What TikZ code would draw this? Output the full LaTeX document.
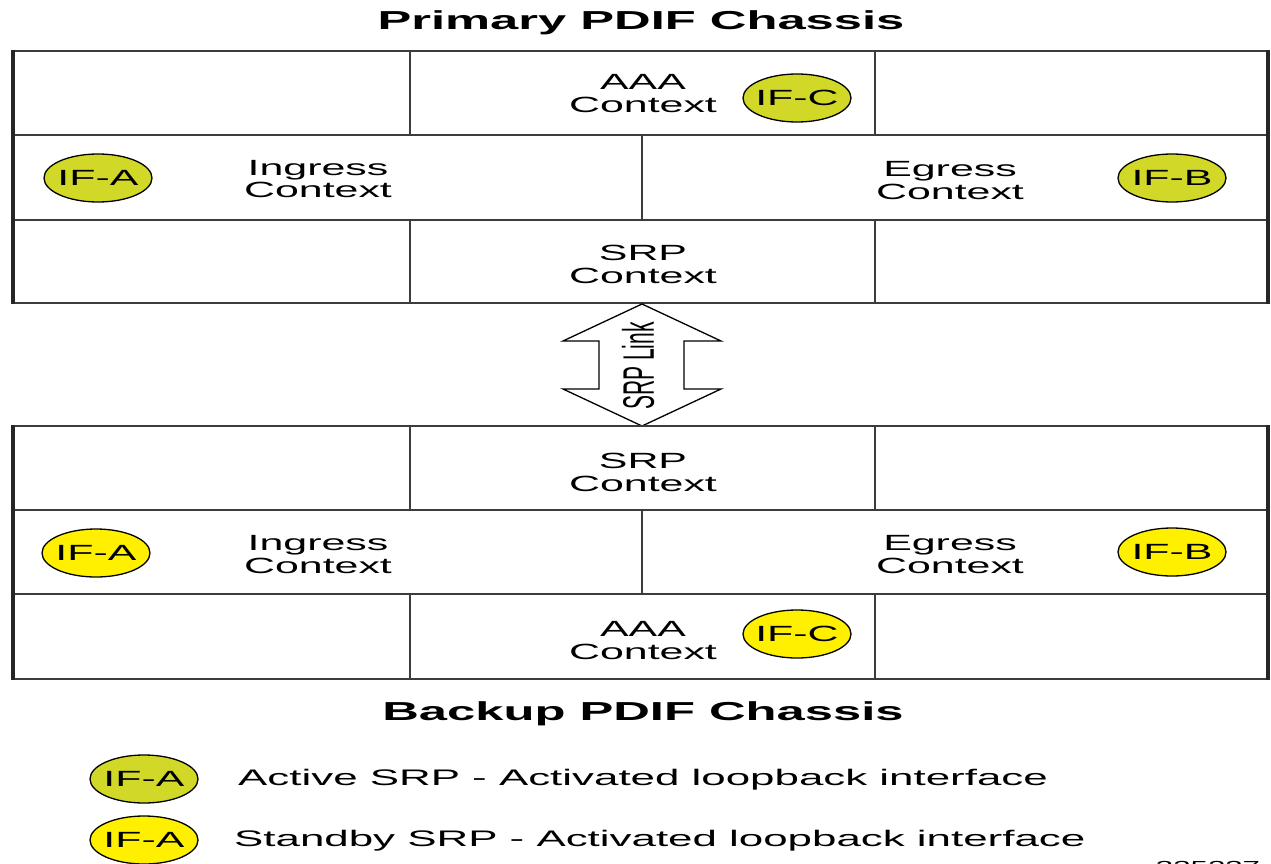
\documentclass[tikz,border=0pt]{standalone}
\usepackage{fontspec}
\setmainfont{Liberation Sans}
\newfontfamily\wide[FakeStretch=1.95]{Liberation Sans}
\usetikzlibrary{shapes.geometric}
\definecolor{activeY}{RGB}{210,216,40}
\definecolor{standbyY}{RGB}{255,240,0}
\definecolor{lineC}{RGB}{60,60,60}
\newcommand\twolines[2]{\vtop{\baselineskip=23pt\halign{\hfil##\hfil\cr #1\cr #2\cr}}}
\begin{document}
\begin{tikzpicture}[x=1pt,y=-1pt,
  lbl/.style={font=\wide\fontsize{22}{23}\selectfont, inner sep=0pt, anchor=base},
  ttl/.style={font=\wide\bfseries\fontsize{26}{26}\selectfont, inner sep=0pt, anchor=base},
  legtxt/.style={font=\wide\fontsize{22.5}{23}\selectfont, inner sep=0pt, anchor=base west},
  ifnode/.style={ellipse, draw=black, line width=1.3pt, minimum width=108pt, minimum height=48pt,
                 inner sep=0pt, inner xsep=-8pt, font=\wide\fontsize{22}{22}\selectfont},
  act/.style={ifnode, fill=activeY},
  stb/.style={ifnode, fill=standbyY},
  gridline/.style={draw=lineC, line width=2pt},
  edge/.style={draw=black!85, line width=3.5pt},
  linkarrow/.style={draw=black, line width=1.3pt, fill=white, line join=miter}]
\useasboundingbox (0,0) rectangle (1271,864);

% ---------- Primary chassis ----------
\node[ttl] (ptitle) at (641,30) {Primary PDIF Chassis};
\draw[gridline] (13,51) rectangle (1268,303);
\draw[gridline] (13,135) -- (1268,135);
\draw[gridline] (13,220) -- (1268,220);
\draw[gridline] (410,51) -- (410,135);
\draw[gridline] (875,51) -- (875,135);
\draw[gridline] (642,135) -- (642,220);
\draw[gridline] (410,220) -- (410,303);
\draw[gridline] (875,220) -- (875,303);
\draw[edge] (13,50) -- (13,304);
\draw[edge] (1268,50) -- (1268,304);

\node[lbl] (paaa) at (643,90) {\twolines{AAA}{Context}};
\node[lbl] (ping) at (318,175) {\twolines{Ingress}{Context}};
\node[lbl] (pegr) at (950,176) {\twolines{Egress}{Context}};
\node[lbl] (psrp) at (643,260) {\twolines{SRP}{Context}};
\node[act] (pifc) at (797,98) {IF-C};
\node[act] (pifa) at (98,178) {IF-A};
\node[act] (pifb) at (1172,178) {IF-B};

% ---------- SRP link ----------
\draw[linkarrow] (642,304) -- (563,341) -- (599,341) -- (599,389) -- (563,389) -- (642,426)
  -- (721,389) -- (684,389) -- (684,341) -- (721,341) -- cycle;
\node[rotate=90, inner sep=0pt, font=\fontsize{21}{21}\selectfont] (srplink) at (638,366)
  {\scalebox{1}[2.1]{SRP Link}};

% ---------- Backup chassis ----------
\draw[gridline] (13,426) rectangle (1268,679);
\draw[gridline] (13,510) -- (1268,510);
\draw[gridline] (13,594) -- (1268,594);
\draw[gridline] (410,426) -- (410,510);
\draw[gridline] (875,426) -- (875,510);
\draw[gridline] (642,510) -- (642,594);
\draw[gridline] (410,594) -- (410,679);
\draw[gridline] (875,594) -- (875,679);
\draw[edge] (13,425) -- (13,680);
\draw[edge] (1268,425) -- (1268,680);

\node[lbl] (bsrp) at (643,468) {\twolines{SRP}{Context}};
\node[lbl] (bing) at (318,550) {\twolines{Ingress}{Context}};
\node[lbl] (begr) at (950,550) {\twolines{Egress}{Context}};
\node[lbl] (baaa) at (643,636) {\twolines{AAA}{Context}};
\node[stb] (bifa) at (96,553) {IF-A};
\node[stb] (bifb) at (1172,552) {IF-B};
\node[stb] (bifc) at (797,634) {IF-C};

\node[ttl] (btitle) at (643,720) {Backup PDIF Chassis};

% ---------- Legend ----------
\node[act] (leg1) at (144,779) {IF-A};
\node[legtxt] (leg1t) at (238,785) {Active SRP - Activated loopback interface};
\node[stb] (leg2) at (144,840) {IF-A};
\node[legtxt] (leg2t) at (234,846) {Standby SRP - Activated loopback interface};

\node[font=\wide\fontsize{16}{16}\selectfont, inner sep=0pt, anchor=base] (fignum) at (1208,872) {335237};
\end{tikzpicture}
\end{document}
